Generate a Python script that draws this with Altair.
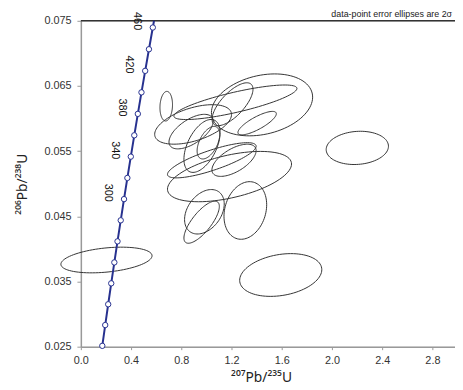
import numpy as np
import pandas as pd
import altair as alt

# Concordia points (every 20 Ma)
ages = [160, 180, 200, 220, 240, 260, 280, 300, 320, 340, 360, 380, 400, 420, 440, 460]
conc_x = [0.1707, 0.1940, 0.2177, 0.2419, 0.2667, 0.2918, 0.3175, 0.3437, 0.3705,
          0.3978, 0.4255, 0.4539, 0.4828, 0.5123, 0.5424, 0.5731]
conc_y = [0.02513, 0.02832, 0.03151, 0.03472, 0.03793, 0.04116, 0.04439, 0.04764,
          0.05089, 0.05416, 0.05743, 0.06072, 0.06402, 0.06732, 0.07064, 0.07397]
# curve continues to the top of the frame
conc_end_x = [0.5827]
conc_end_y = [0.075]
label_ages = [300, 340, 380, 420, 460]

# Error ellipses: centre, half-extents and correlation
ell_cx = [0.680, 1.443, 1.208, 1.231, 0.894, 1.404, 0.878, 0.965, 1.016,
          1.043, 1.220, 1.184, 1.310, 0.962, 0.984, 2.202, 1.592, 0.204]
ell_cy = [0.0619, 0.0621, 0.0622, 0.0625, 0.0591, 0.0593, 0.0580, 0.0558, 0.0563,
          0.0536, 0.0536, 0.0511, 0.0459, 0.0441, 0.0457, 0.0555, 0.0360, 0.0383]
ell_sx = [0.050, 0.403, 0.163, 0.490, 0.306, 0.153, 0.176, 0.144, 0.090,
          0.353, 0.176, 0.494, 0.170, 0.141, 0.158, 0.248, 0.327, 0.363]
ell_sy = [0.00227, 0.00475, 0.00329, 0.00265, 0.00303, 0.00180, 0.00265, 0.00406, 0.00250,
          0.00270, 0.00247, 0.00386, 0.00442, 0.00323, 0.00341, 0.00255, 0.00328, 0.00197]
ell_rho = [0.10, 0.25, 0.70, 0.80, 0.50, 0.80, 0.60, 0.50, 0.50,
           0.80, 0.60, 0.50, 0.20, 0.75, 0.35, 0.10, 0.25, 0.33]

x_ticks = [0.0, 0.2, 0.4, 0.6, 0.8, 1.0, 1.2, 1.4, 1.6, 1.8, 2.0, 2.2, 2.4, 2.6, 2.8]
y_ticks = [0.025, 0.030, 0.035, 0.040, 0.045, 0.050, 0.055, 0.060, 0.065, 0.070, 0.075]
note = "data-point error ellipses are 2σ"

FONT = "Liberation Sans"
TFONT = "Noto Sans"
BLUE = "#27318f"

# build ellipse outlines
rows = []
t = np.linspace(0, 2 * np.pi, 91)
for i in range(len(ell_cx)):
    r = ell_rho[i]
    xs = ell_cx[i] + ell_sx[i] * np.cos(t)
    ys = ell_cy[i] + ell_sy[i] * (r * np.cos(t) + np.sqrt(1 - r * r) * np.sin(t))
    for k in range(len(t)):
        rows.append({"id": i, "k": k, "x": xs[k], "y": ys[k]})
ell_df = pd.DataFrame(rows)

conc_df = pd.DataFrame({"age": ages, "x": conc_x, "y": conc_y})
line_df = pd.DataFrame({"x": conc_x + conc_end_x, "y": conc_y + conc_end_y})
lab_df = conc_df[conc_df["age"].isin(label_ages)].copy()
lab_df["lab"] = lab_df["age"].astype(str)

xs = alt.Scale(domain=[0, 2.98], nice=False, zero=False)
ys = alt.Scale(domain=[0.025, 0.075], nice=False, zero=False)

x_axis = alt.Axis(values=x_ticks, labelExpr="round(datum.value*10) % 4 == 0 ? format(datum.value, '.1f') : ''",
                  title="²⁰⁷Pb/²³⁵U", titleFontSize=14, titleFont=TFONT, titleFontWeight="normal",
                  titleColor="#222", titlePadding=5, titleX=183,
                  labelFont=FONT, labelFontSize=11, labelColor="#333", labelFlush=False,
                  labelPadding=5, tickSize=3, tickColor="#999", domainColor="#999",
                  domainWidth=1.5, grid=False)
y_axis = alt.Axis(values=y_ticks, labelExpr="round(datum.value*1000) % 10 == 5 ? format(datum.value, '.3f') : ''",
                  title="²⁰⁶Pb/²³⁸U", titleFontSize=14, titleFont=TFONT, titleFontWeight="normal",
                  titleColor="#222", titlePadding=15,
                  labelFont=FONT, labelFontSize=11, labelColor="#333", labelFlush=False,
                  labelPadding=6, tickSize=4, tickColor="#999", domainColor="#999",
                  domainWidth=1.5, grid=False)

ellipses = alt.Chart(ell_df).mark_line(color="#333", strokeWidth=1).encode(
    x=alt.X("x:Q", scale=xs, axis=x_axis),
    y=alt.Y("y:Q", scale=ys, axis=y_axis),
    detail="id:N",
    order="k:Q",
)

top_rule = alt.Chart(pd.DataFrame({"y": [0.075]})).mark_rule(color="#333", strokeWidth=1.5).encode(
    y=alt.Y("y:Q", scale=ys)
)

conc_line = alt.Chart(line_df).mark_line(color=BLUE, strokeWidth=2).encode(
    x=alt.X("x:Q", scale=xs), y=alt.Y("y:Q", scale=ys)
)
conc_pts = alt.Chart(conc_df).mark_point(shape="circle", filled=True, fill="white", stroke=BLUE,
                                          strokeWidth=1, size=30, opacity=1).encode(
    x=alt.X("x:Q", scale=xs), y=alt.Y("y:Q", scale=ys)
)
age_labels = alt.Chart(lab_df).mark_text(angle=90, dx=-6.5, dy=16, fontSize=11, font=FONT,
                                         color="#111", align="center", baseline="middle").encode(
    x=alt.X("x:Q", scale=xs), y=alt.Y("y:Q", scale=ys), text="lab:N"
)
note_text = alt.Chart(pd.DataFrame({"t": [note]})).mark_text(
    align="right", baseline="alphabetic", fontSize=9, font=FONT, color="#222"
).encode(x=alt.value(377), y=alt.value(-3.5), text="t:N")

chart = alt.layer(ellipses, top_rule, conc_line, conc_pts, age_labels, note_text).properties(
    width=380, height=331,
    autosize=alt.AutoSizeParams(type="none"),
    padding={"left": 74, "top": 10, "right": 0, "bottom": 42},
).configure_view(stroke=None).configure(background="white")

chart.save("out.html", embed_options={"renderer": "svg", "actions": False})
